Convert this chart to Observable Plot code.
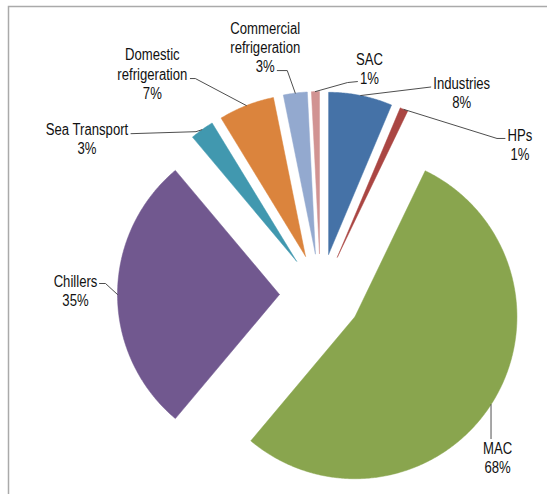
<!DOCTYPE html>
<html><head><meta charset="utf-8">
<script src="https://cdn.jsdelivr.net/npm/d3@7"></script>
<script src="https://cdn.jsdelivr.net/npm/@observablehq/plot@0.6"></script>
<style>html,body{margin:0;padding:0;background:#fff;overflow:hidden}</style>
</head><body><div id="chart"></div>
<script>
// ---- data ----
const sectors = ["Industries","HPs","MAC","Chillers","Sea Transport","Domestic refrigeration","Commercial refrigeration","SAC"];
const shares = [8, 1, 68, 35, 3, 7, 3, 1];
const percentLabels = ["8%","1%","68%","35%","3%","7%","3%","1%"];
const nameLines = ["Industries","HPs","MAC","Chillers","Sea Transport","Domestic\nrefrigeration","Commercial\nrefrigeration","SAC"];
const colors = ["#4572A7","#AA4643","#89A54E","#71588F","#4198AF","#DB843D","#93A9CF","#D19392"];

// ---- layout (pixels) ----
const W = 547, H = 494;
const PX = 162;          // pixels per unit radius
const CX = 320, CY = 294; // pie centre in pixels
const EXPLODE = 41 / PX;
// label block centre and leader elbows, as pixel offsets from the slice's mid-arc point
const labelLayout = {
  "Industries": {text: [101, -3], leader: [[70, -8.5]]},
  "HPs": {text: [116, 35], leader: [[93, 29], [101, 29]]},
  "MAC": {text: [6.5, 53], leader: [[0, 34]]},
  "Chillers": {text: [-42, -4.5], leader: [[-12, -11], [-18, -11]]},
  "Sea Transport": {text: [-115, 9], leader: [[-6, 2], [-71, 4]]},
  "Domestic refrigeration": {text: [-94, -32], leader: [[-51, -27], [-56, -27]]},
  "Commercial refrigeration": {text: [-30, -46.5], leader: [[-8, -22.5], [-18, -22.5]]},
  "SAC": {text: [54, -23.5], leader: [[32, -9], [42, -10]]}
};

const arcs = d3.pie().sort(null).startAngle(0).endAngle(2 * Math.PI)(shares);
const marks = [];
const font = "'Liberation Sans', Arial, sans-serif";

arcs.forEach((a, i) => {
  const mid = (a.startAngle + a.endAngle) / 2;
  const ox = EXPLODE * Math.sin(mid), oy = EXPLODE * Math.cos(mid);
  const pts = [{x: ox, y: oy}];
  const n = Math.max(2, Math.ceil((a.endAngle - a.startAngle) / (Math.PI / 360)));
  for (let k = 0; k <= n; k++) {
    const t = a.startAngle + (a.endAngle - a.startAngle) * k / n;
    pts.push({x: ox + Math.sin(t), y: oy + Math.cos(t)});
  }
  pts.push({x: ox, y: oy});
  marks.push(Plot.line(pts, {x: "x", y: "y", fill: colors[i], stroke: colors[i], strokeWidth: 0.5, curve: "linear"}));

  const ax = ox + Math.sin(mid), ay = oy + Math.cos(mid);
  const L = labelLayout[sectors[i]];
  const leader = [{x: ax, y: ay}, ...L.leader.map(([dx, dy]) => ({x: ax + dx / PX, y: ay - dy / PX}))];
  marks.push(Plot.line(leader, {x: "x", y: "y", stroke: "#3a3a3a", strokeWidth: 0.9, curve: "linear"}));
  marks.push(Plot.text([{x: ax + L.text[0] / PX, y: ay - L.text[1] / PX, t: nameLines[i] + "\n" + percentLabels[i]}],
    {x: "x", y: "y", text: "t", textAnchor: "middle", lineAnchor: "middle", lineHeight: 1.2,
     fontSize: 16, fontFamily: font, fill: "#111", className: "pie-label"}));
});

marks.push(Plot.frame({stroke: "#aaaaaa", strokeWidth: 1.5, insetTop: 6, insetLeft: 8, insetRight: -10, insetBottom: -10}));

const chart = Plot.plot({
  width: W, height: H,
  margin: 0,
  x: {domain: [-CX / PX, (W - CX) / PX], range: [0, W], axis: null},
  y: {domain: [-(H - CY) / PX, CY / PX], range: [H, 0], axis: null},
  style: {background: "#fff"},
  marks
});
// narrow the label glyphs horizontally (Arial Narrow look), keeping each label centred on its anchor
d3.select(chart).selectAll("text").each(function () {
  const t = this.getAttribute("transform") || "";
  this.setAttribute("transform", t + " scale(0.82,1)");
});
document.getElementById("chart").appendChild(chart);
</script>
</body></html>
